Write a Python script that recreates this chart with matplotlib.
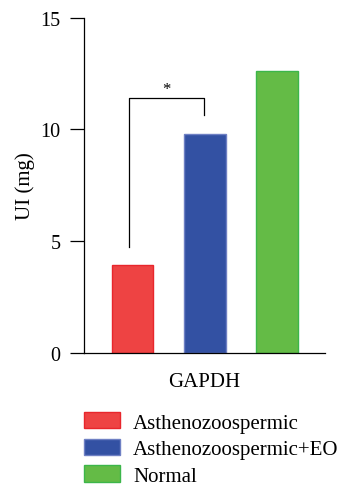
import matplotlib.pyplot as plt
import matplotlib.patches as mpatches

plt.rcParams['font.family'] = ['Liberation Serif', 'DejaVu Serif']

# data
groups = ['Asthenozoospermic', 'Asthenozoospermic+EO', 'Normal']
values = [3.92, 9.78, 12.61]
fills = ['#EE4343', '#3351A3', '#64BB46']
edges = ['#E8262C', '#6F80C4', '#3CB64A']
yticks = [0, 5, 10, 15]

fig = plt.figure(figsize=(3.44, 4.89), dpi=100)
ax = fig.add_axes([0.244, 0.276, 0.701, 0.686])

xpos = [0, 1, 2]
ax.bar(xpos, values, width=0.58, color=fills, edgecolor=edges, linewidth=1)

# significance bracket between first two bars
bx0, bx1 = -0.045, 0.985
ax.plot([bx0, bx0, bx1, bx1], [4.73, 11.4, 11.4, 10.66], color='black', lw=0.9)
ax.text((bx0 + bx1) / 2, 11.45, '*', ha='center', va='bottom', fontsize=12)

ax.set_xlim(-0.674, 2.67)
ax.set_ylim(0, 15)
ax.set_yticks(yticks)
ax.set_xticks([])
ax.tick_params(axis='y', length=10, width=0.9, labelsize=14.5, pad=7)
ax.spines['top'].set_visible(False)
ax.spines['right'].set_visible(False)
ax.spines['left'].set_linewidth(0.9)
ax.spines['bottom'].set_linewidth(0.9)
ax.set_ylabel('UI (mg)', fontsize=15, labelpad=3.5)
ax.set_xlabel('GAPDH', fontsize=15, labelpad=14)

handles = [mpatches.Patch(facecolor=f, edgecolor=e, label=g)
           for g, f, e in zip(groups, fills, edges)]
fig.legend(handles=handles, loc='upper left', bbox_to_anchor=(0.244, 0.155),
           frameon=False, fontsize=15, handlelength=1.73, handleheight=0.82,
           labelspacing=0.3, handletextpad=0.62, borderaxespad=0, borderpad=0)

fig.savefig('out.png', dpi=100)
